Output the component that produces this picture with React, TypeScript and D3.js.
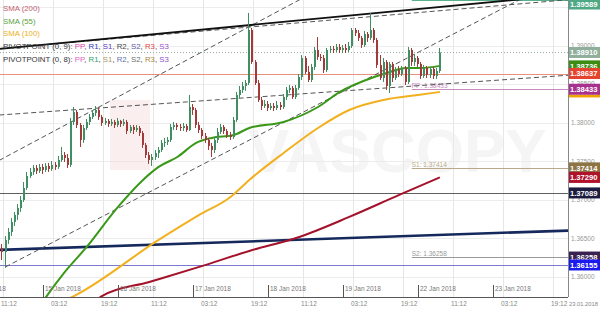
import React from "react";
import * as d3 from "d3";

// ---------- data ----------
const FIRST_HOUR = 10; // trading hours since 12 Jan 2018 00:00 (weekend removed)
const OPEN_FIRST = 1.36285;
const CLOSE = [
  1.36376,1.36324,1.36480,1.36583,1.36713,1.36804,1.36894,1.36998,1.37154,1.37309,
  1.37361,1.37413,1.37374,1.37426,1.37387,1.37439,1.37400,1.37452,1.37426,1.37516,
  1.37581,1.37542,1.37452,1.38009,1.38138,1.37970,1.37776,1.37931,1.38009,1.38074,
  1.38126,1.38164,1.38074,1.37996,1.38022,1.37983,1.38009,1.37970,1.38022,1.37983,
  1.38009,1.37892,1.37944,1.37905,1.37931,1.37866,1.37711,1.37581,1.37516,1.37555,
  1.37607,1.37646,1.37737,1.37750,1.37776,1.37944,1.37970,1.37944,1.37931,1.37957,
  1.37905,1.38203,1.38164,1.37970,1.37905,1.37827,1.37776,1.37698,1.37646,1.37776,
  1.37879,1.37944,1.37892,1.37840,1.37814,1.38035,1.38359,1.38424,1.38475,1.38514,
  1.39201,1.38786,1.38514,1.38294,1.38216,1.38242,1.38190,1.38216,1.38190,1.38229,
  1.38203,1.38333,1.38424,1.38450,1.38333,1.38450,1.38592,1.38838,1.38657,1.38553,
  1.38722,1.38942,1.38851,1.38838,1.38683,1.38942,1.38955,1.38942,1.38981,1.38942,
  1.38968,1.38942,1.38994,1.39201,1.39162,1.39098,1.39007,1.39149,1.39098,1.39201,
  1.39072,1.38748,1.38579,1.38786,1.38475,1.38761,1.38579,1.38683,1.38631,1.38709,
  1.38527,1.38942,1.38786,1.38838,1.38761,1.38605,1.38709,1.38618,1.38696,1.38605,
  1.38670,1.38910,
];
const HIGH = [
  1.36480,1.36428,1.36531,1.36635,1.36765,1.36842,1.36946,1.37050,1.37231,1.37361,
  1.37413,1.37452,1.37452,1.37465,1.37465,1.37478,1.37478,1.37503,1.37490,1.37568,
  1.37685,1.37620,1.37594,1.38061,1.38203,1.38164,1.37996,1.37970,1.38048,1.38113,
  1.38164,1.38216,1.38190,1.38100,1.38061,1.38048,1.38048,1.38035,1.38061,1.38035,
  1.38048,1.38035,1.37970,1.37970,1.37970,1.37957,1.37892,1.37737,1.37620,1.37594,
  1.37646,1.37685,1.37776,1.37802,1.37814,1.37983,1.38009,1.37996,1.37983,1.37996,
  1.37983,1.38359,1.38242,1.38190,1.38009,1.37931,1.37866,1.37802,1.37737,1.37814,
  1.37931,1.37983,1.37970,1.37918,1.37879,1.38074,1.38398,1.38475,1.38527,1.38553,
  1.39422,1.39227,1.38812,1.38553,1.38333,1.38294,1.38281,1.38255,1.38255,1.38281,
  1.38268,1.38372,1.38462,1.38488,1.38475,1.38488,1.38631,1.38877,1.38864,1.38735,
  1.38761,1.38981,1.39110,1.38890,1.38877,1.38968,1.38994,1.38994,1.39020,1.39020,
  1.39007,1.39020,1.39046,1.39227,1.39227,1.39201,1.39123,1.39188,1.39175,1.39422,
  1.39227,1.39098,1.38877,1.38838,1.38812,1.38786,1.38786,1.38722,1.38735,1.38735,
  1.38735,1.38981,1.38968,1.38890,1.38864,1.38786,1.38748,1.38735,1.38722,1.38722,
  1.38709,1.38968,
];
const LOW = [
  1.36194,1.36220,1.36117,1.36428,1.36531,1.36661,1.36739,1.36842,1.36972,1.37128,
  1.37283,1.37322,1.37335,1.37348,1.37335,1.37361,1.37361,1.37374,1.37387,1.37400,
  1.37490,1.37490,1.37413,1.37426,1.37970,1.37931,1.37685,1.37737,1.37905,1.37970,
  1.38048,1.38087,1.38035,1.37957,1.37970,1.37944,1.37957,1.37931,1.37944,1.37944,
  1.37957,1.37853,1.37866,1.37853,1.37879,1.37827,1.37672,1.37542,1.37465,1.37439,
  1.37516,1.37542,1.37620,1.37685,1.37711,1.37750,1.37905,1.37905,1.37892,1.37892,
  1.37879,1.37892,1.38100,1.37931,1.37866,1.37789,1.37737,1.37646,1.37555,1.37607,
  1.37737,1.37853,1.37853,1.37802,1.37776,1.37789,1.38009,1.38320,1.38385,1.38411,
  1.38488,1.38761,1.38488,1.38268,1.38164,1.38190,1.38151,1.38164,1.38151,1.38164,
  1.38164,1.38177,1.38294,1.38385,1.38307,1.38307,1.38424,1.38553,1.38631,1.38527,
  1.38527,1.38683,1.38812,1.38799,1.38644,1.38657,1.38903,1.38903,1.38916,1.38903,
  1.38903,1.38903,1.38916,1.38968,1.39123,1.39059,1.38968,1.38981,1.39046,1.39072,
  1.39033,1.38709,1.38553,1.38527,1.38424,1.38385,1.38527,1.38553,1.38592,1.38605,
  1.38488,1.38501,1.38735,1.38735,1.38722,1.38566,1.38579,1.38579,1.38579,1.38566,
  1.38566,1.38644,
];

const SMA55_H = [23,25,31,38,48,56,61,67,73,78,85,90,101,112,119,130,135,140,145,151];
const SMA55_V = [1.35624,1.35741,1.36065,1.36389,1.36907,1.37257,1.37426,1.37555,1.37737,1.37802,1.37840,1.37931,1.38009,1.38203,1.38398,1.38592,1.38657,1.38709,1.38709,1.38736];
const SMA100_H = [30,34,61,74,84,90,101,112,122,133,144,151];
const SMA100_V = [1.35676,1.35754,1.36480,1.36804,1.37037,1.37257,1.37607,1.37931,1.38164,1.38294,1.38359,1.38398];
const SMA200_H = [41,43,58,74,90,106,122,138,151];
const SMA200_V = [1.35702,1.35754,1.35935,1.36130,1.36337,1.36518,1.36778,1.37063,1.37290];

// trend lines: [hour1, price1, hour2, price2]
const TREND_RESIST = [10, 1.38955, 170, 1.39573];
const TREND_UPPER_DASH = [10, 1.38961, 170, 1.39517];
const TREND_CHANNEL_HI = [10, 1.37511, 100, 1.39461];
const TREND_CHANNEL_LO = [12, 1.36130, 170, 1.39458];
const TREND_SHALLOW = [10, 1.38099, 190, 1.38609];
const TREND_NAVY = [10, 1.36350, 190, 1.36598];

const FULL_LEVELS = [1.38637, 1.37089, 1.36155];
const LAST_PRICE = 1.38910;
const PIVOT_START_HOUR = 142;
const PIVOT_NAMES = ["R1", "PP", "S1", "S2"];
const PIVOT_VALUES = [1.39589, 1.38433, 1.37414, 1.36258];

const TAG_VALUES = [1.39589, 1.38910, 1.38736, 1.38637, 1.38398, 1.38433, 1.37414, 1.37290, 1.37089, 1.36258, 1.36155];

const Y_TICKS = [1.36, 1.365, 1.37, 1.375, 1.38, 1.385, 1.39, 1.395];
const DATE_HOURS = [0, 24, 48, 72, 96, 120, 144, 168];
const DATE_LABELS = ["12 Jan 2018", "15 Jan 2018", "16 Jan 2018", "17 Jan 2018", "18 Jan 2018", "19 Jan 2018", "22 Jan 2018", "23 Jan 2018"];
const TIME_HOURS = [11.2, 27.2, 43.2, 59.2, 75.2, 91.2, 107.2, 123.2, 139.2, 155.2, 171.2, 187.2];
const TIME_LABELS = ["11:12", "03:12", "19:12", "11:12", "03:12", "19:12", "11:12", "03:12", "19:12", "11:12", "03:12", "19:12"];
const LAST_DATE = "23.01.2018";

// ---------- styles ----------
const FULL_LEVEL_COLORS = ["#e8907e", "#606060", "#7a7ad0"];
const PIVOT_COLORS = ["#5ab08c", "#c88cbc", "#b8aa88", "#9a9a9a"];
const TAG_COLORS = ["#4ea884", "#8fae9c", "#3c8c14", "#e4442e", "#f0a400", "#a8308e", "#8c7444", "#b0122c", "#1c1c40", "#3a2250", "#1a1aee"];
const FONT = "'Liberation Sans', Arial, sans-serif";

export default function App() {
  React.useEffect(() => {
    document.body.style.margin = "0";
  }, []);

  const PR = 568;
  const PB = 297;
  const x = d3.scaleLinear().domain([10.24, 192]).range([0, PR]);
  const y = d3.scaleLinear().domain([1.3574, 1.3959]).range([PB, 0]);

  const candles = CLOSE.map((c, i) => ({
    h: FIRST_HOUR + i,
    o: i === 0 ? OPEN_FIRST : CLOSE[i - 1],
    c,
    hi: HIGH[i],
    lo: LOW[i],
  }));

  const smaLine = d3
    .line<[number, number]>()
    .x((d) => x(d[0]))
    .y((d) => y(d[1]))
    .curve(d3.curveMonotoneX);
  const zip = (hs: number[], vs: number[]) => hs.map((h, i) => [h, vs[i]] as [number, number]);

  const trend = (t: number[]) => {
    const [h1, p1, h2, p2] = t;
    const slope = (p2 - p1) / (h2 - h1);
    const hEnd = 192;
    return { x1: x(h1), y1: y(p1), x2: x(hEnd), y2: y(p1 + slope * (hEnd - h1)) };
  };

  const dashed = [TREND_UPPER_DASH, TREND_CHANNEL_HI, TREND_CHANNEL_LO, TREND_SHALLOW].map(trend);
  const resist = trend(TREND_RESIST);
  const navy = trend(TREND_NAVY);

  return (
    <svg
      width={600}
      height={320}
      style={{ position: "absolute", left: 0, top: 0, background: "#fff" }}
      fontFamily={FONT}
    >
      <defs>
        <clipPath id="plotclip">
          <rect x={0} y={0} width={PR} height={PB} />
        </clipPath>
      </defs>
      <rect x={0} y={0} width={600} height={320} fill="#fff" />

      {/* grid */}
      {Y_TICKS.map((t, i) => (
        <line key={"gy" + i} x1={0} x2={PR} y1={Math.round(y(t)) + 0.5} y2={Math.round(y(t)) + 0.5} stroke="#ececec" />
      ))}
      {TIME_HOURS.map((h, i) => (
        <line key={"gx" + i} x1={Math.round(x(h)) + 0.5} x2={Math.round(x(h)) + 0.5} y1={0} y2={PB} stroke="#e6e6e6" />
      ))}

      {/* watermark */}
      <g opacity={0.5}>
        <rect x={110} y={100} width={40} height={70} fill="#f6dede" />
        <text x={248} y={172} fontSize={62} fontWeight="bold" fill="#ececec" fontFamily={FONT}>
          VASCOPY
        </text>
      </g>

      <g clipPath="url(#plotclip)">
        {/* full-width horizontal levels */}
        {FULL_LEVELS.map((v, i) => (
          <line key={"fl" + i} x1={0} x2={PR} y1={Math.round(y(v)) + 0.5} y2={Math.round(y(v)) + 0.5} stroke={FULL_LEVEL_COLORS[i]} strokeWidth={1} />
        ))}
        <line x1={0} x2={PR} y1={Math.round(y(LAST_PRICE)) + 0.5} y2={Math.round(y(LAST_PRICE)) + 0.5} stroke="#9aaea2" strokeDasharray="1,2" />

        {/* pivot levels */}
        {PIVOT_VALUES.map((v, i) => (
          <g key={"pv" + i}>
            <line x1={x(PIVOT_START_HOUR)} x2={PR} y1={Math.round(y(v)) + 0.5} y2={Math.round(y(v)) + 0.5} stroke={PIVOT_COLORS[i]} strokeWidth={1.2} />
            <text x={x(PIVOT_START_HOUR)} y={y(v) - 1} fontSize={6.5} fill={PIVOT_COLORS[i]}>
              {PIVOT_NAMES[i] + ": " + v.toFixed(5)}
            </text>
          </g>
        ))}

        {/* navy thick line */}
        <line {...navy} stroke="#15295c" strokeWidth={2.6} />

        {/* dashed trend lines */}
        {dashed.map((l, i) => (
          <line key={"dl" + i} {...l} stroke="#555" strokeWidth={1} strokeDasharray="5,3" />
        ))}
        <line {...resist} stroke="#111" strokeWidth={1.8} />

        {/* SMAs */}
        <path d={smaLine(zip(SMA200_H, SMA200_V)) || ""} fill="none" stroke="#a3122a" strokeWidth={2} />
        <path d={smaLine(zip(SMA100_H, SMA100_V)) || ""} fill="none" stroke="#f2b01e" strokeWidth={2} />
        <path d={smaLine(zip(SMA55_H, SMA55_V)) || ""} fill="none" stroke="#3a9818" strokeWidth={2} />

        {/* candles */}
        {candles.map((d, i) => {
          const cx = Math.round(x(d.h));
          const up = d.c >= d.o;
          const col = up ? "#3f8f62" : "#a33a3a";
          const top = y(Math.max(d.o, d.c));
          const bot = y(Math.min(d.o, d.c));
          return (
            <g key={"c" + i}>
              <line x1={cx - 0.5} x2={cx - 0.5} y1={y(d.hi)} y2={y(d.lo)} stroke={col} strokeWidth={1} />
              <rect x={cx - 1} y={top} width={2} height={Math.max(1, bot - top)} fill={col} />
            </g>
          );
        })}
      </g>

      {/* axes frame */}
      <line x1={PR + 0.5} x2={PR + 0.5} y1={0} y2={PB} stroke="#888" />
      <line x1={0} x2={PR} y1={PB + 0.5} y2={PB + 0.5} stroke="#555" />

      {/* date ticks inside plot */}
      {DATE_HOURS.map((h, i) => (
        <g key={"dt" + i}>
          <line x1={Math.round(x(h)) + 0.5} x2={Math.round(x(h)) + 0.5} y1={285} y2={PB} stroke="#555" />
          <text x={x(h) + 2} y={291} fontSize={6.5} fill="#777">
            {DATE_LABELS[i]}
          </text>
        </g>
      ))}

      {/* time labels below */}
      {TIME_HOURS.map((h, i) => (
        <text key={"tl" + i} x={x(h) - 2} y={306} fontSize={6.5} fill="#888">
          {TIME_LABELS[i]}
        </text>
      ))}
      <text x={569} y={306} fontSize={5.8} fill="#888">
        {LAST_DATE}
      </text>

      {/* right axis tick labels */}
      {Y_TICKS.map((t, i) => (
        <text key={"yl" + i} x={571} y={y(t) + 2.3} fontSize={6.5} fill="#999">
          {t.toFixed(5)}
        </text>
      ))}

      {/* price tags */}
      {TAG_VALUES.map((v, i) => {
        const cy = Math.max(4, y(v));
        return (
          <g key={"tag" + i}>
            <rect x={PR + 1} y={cy - 5.5} width={600 - PR - 1} height={11} fill={TAG_COLORS[i]} />
            <text x={570} y={cy + 2.8} fontSize={7.6} fontWeight="bold" fill="#fff">
              {v.toFixed(5)}
            </text>
          </g>
        );
      })}

      {/* legend */}
      <g fontSize={7.8}>
        <text x={3} y={11} fill="#c2606e">SMA (200)</text>
        <text x={3} y={24} fill="#5ca040">SMA (55)</text>
        <text x={3} y={36} fill="#eab022">SMA (100)</text>
        <text x={3} y={49} fill="#333">
          PIVOTPOINT (0, 9):{" "}
          <tspan fill="#e040a8">PP</tspan>, <tspan fill="#3040c0">R1</tspan>, <tspan fill="#6040c8">S1</tspan>,{" "}
          <tspan fill="#444">R2</tspan>, <tspan fill="#5a5aa8">S2</tspan>, <tspan fill="#e04848">R3</tspan>,{" "}
          <tspan fill="#9a50c8">S3</tspan>
        </text>
        <text x={3} y={62} fill="#333">
          PIVOTPOINT (0, 8):{" "}
          <tspan fill="#e060c8">PP</tspan>, <tspan fill="#30a070">R1</tspan>, <tspan fill="#a89860">S1</tspan>,{" "}
          <tspan fill="#6070b0">R2</tspan>, <tspan fill="#707070">S2</tspan>, <tspan fill="#a88840">R3</tspan>,{" "}
          <tspan fill="#9050c8">S3</tspan>
        </text>
      </g>
    </svg>
  );
}
